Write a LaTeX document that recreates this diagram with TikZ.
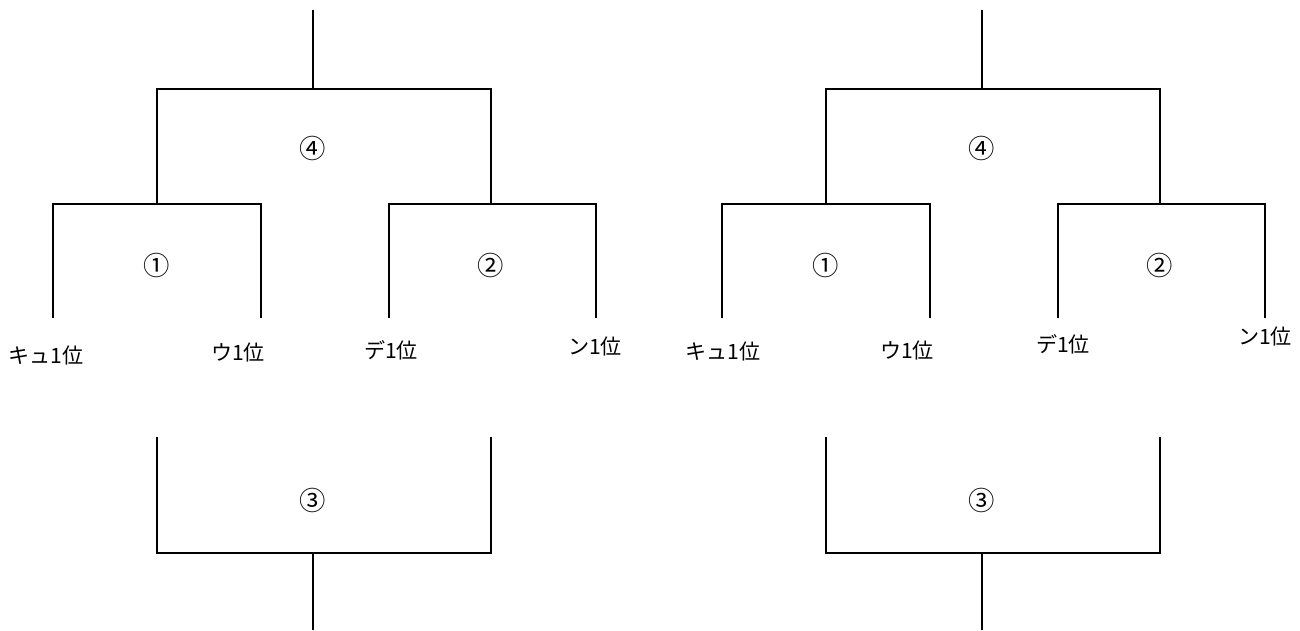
\documentclass[tikz,border=0pt]{standalone}
\usepackage{fontspec}
\setmainfont{Noto Sans CJK JP}
\begin{document}
\begin{tikzpicture}[x=0.02cm,y=-0.02cm,font=\fontsize{12}{14}\selectfont,
      wire/.style={line width=1.1pt},
      num/.style={inner sep=0pt,font=\fontsize{15}{16}\selectfont},
      team/.style={inner sep=0pt}]
    \useasboundingbox (0,0) rectangle (1300,630);
    \foreach \s/\ox in {l/0,r/669}{
      % --- final (4) ---
      \coordinate (\s-top) at (\ox+313,10);
      \coordinate (\s-fin) at (\ox+313,89);
      \coordinate (\s-a) at (\ox+157,204);
      \coordinate (\s-b) at (\ox+491,204);
      \draw[wire] (\s-top) -- (\s-fin);
      \draw[wire] (\s-a) |- (\s-fin) -| (\s-b);
      \node[num] (\s-m4) at (\ox+313,148) {④};
      % --- semi finals (1),(2) ---
      \coordinate (\s-k) at (\ox+53,318);  \coordinate (\s-u) at (\ox+261,318);
      \coordinate (\s-d) at (\ox+389,318); \coordinate (\s-n) at (\ox+596,318);
      \draw[wire] (\s-k) |- (\s-a) -| (\s-u);
      \draw[wire] (\s-d) |- (\s-b) -| (\s-n);
      \node[num] (\s-m1) at (\ox+157,265) {①};
      \node[num] (\s-m2) at (\ox+491,265) {②};
      % --- third place (3) ---
      \coordinate (\s-c) at (\ox+157,437);
      \coordinate (\s-e) at (\ox+491,437);
      \coordinate (\s-p) at (\ox+313,553);
      \coordinate (\s-bot) at (\ox+313,630);
      \draw[wire] (\s-c) |- (\s-p) -| (\s-e);
      \draw[wire] (\s-p) -- (\s-bot);
      \node[num] (\s-m3) at (\ox+313,500) {③};
    }
    % team labels
    \node[team] (l-t1) at (46,355) {キュ1位};
    \node[team] (l-t2) at (238,352) {ウ1位};
    \node[team] (l-t3) at (391,350) {デ1位};
    \node[team] (l-t4) at (595,346) {ン1位};
    \node[team] (r-t1) at (723,351) {キュ1位};
    \node[team] (r-t2) at (907,350) {ウ1位};
    \node[team] (r-t3) at (1063,344) {デ1位};
    \node[team] (r-t4) at (1265,336) {ン1位};
  \end{tikzpicture}
\end{document}
